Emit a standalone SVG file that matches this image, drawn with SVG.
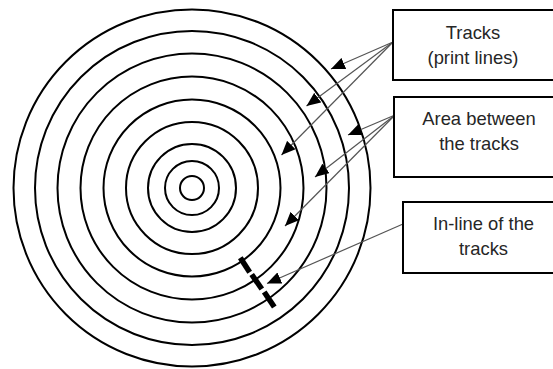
<svg xmlns="http://www.w3.org/2000/svg" width="553" height="369" viewBox="0 0 553 369">
<style>
.ring{fill:none;stroke:#000;stroke-width:2}
.box{fill:#fff;stroke:#000;stroke-width:2}
.lbl{font-family:"Liberation Sans",Arial,sans-serif;font-size:18.4px;fill:#262626;text-anchor:middle}
.conn{stroke:#555;stroke-width:1.2;fill:none;marker-end:url(#ah)}
.dash{stroke:#000;stroke-width:5.5;stroke-linecap:butt}
</style>
<defs>
<marker id="ah" markerUnits="userSpaceOnUse" markerWidth="15" markerHeight="12" refX="14" refY="6" orient="auto">
<path d="M0,0 L14,6 L0,12 z" fill="#000"/>
</marker>
</defs>
<rect width="553" height="369" fill="#fff"/>
<g id="disc">
<circle class="ring" cx="192" cy="188" r="178.5"/>
<circle class="ring" cx="192" cy="188" r="157"/>
<circle class="ring" cx="192" cy="188" r="134.5"/>
<circle class="ring" cx="192" cy="188" r="111.5"/>
<circle class="ring" cx="192" cy="188" r="88.5"/>
<circle class="ring" cx="192" cy="188" r="66"/>
<circle class="ring" cx="192" cy="188" r="44"/>
<circle class="ring" cx="192" cy="188" r="27"/>
<circle class="ring" cx="192" cy="188" r="12"/>
</g>
<g id="inline-marks">
<line class="dash" x1="240.3" y1="257.7" x2="249.7" y2="272.3"/>
<line class="dash" x1="251.7" y1="274.5" x2="261.8" y2="289"/>
<line class="dash" x1="264.2" y1="292" x2="274.3" y2="307"/>
</g>
<g id="connectors">
<line class="conn" x1="393" y1="42" x2="331" y2="69"/>
<line class="conn" x1="393" y1="42" x2="306.5" y2="106"/>
<line class="conn" x1="393" y1="42" x2="281.5" y2="155"/>
<line class="conn" x1="395" y1="115" x2="348" y2="135"/>
<line class="conn" x1="395" y1="115" x2="315" y2="177"/>
<line class="conn" x1="395" y1="115" x2="285" y2="226"/>
<line class="conn" x1="403" y1="224" x2="267" y2="283.5"/>
</g>
<g id="box-tracks">
<rect class="box" x="393" y="10" width="175" height="70"/>
<text class="lbl" x="473" y="39">Tracks</text>
<text class="lbl" x="473" y="64">(print lines)</text>
</g>
<g id="box-area">
<rect class="box" x="394" y="97" width="175" height="80"/>
<text class="lbl" x="479" y="125">Area between</text>
<text class="lbl" x="479" y="150">the tracks</text>
</g>
<g id="box-inline">
<rect class="box" x="403" y="202" width="175" height="71"/>
<text class="lbl" x="483.5" y="230">In-line of the</text>
<text class="lbl" x="483.5" y="255">tracks</text>
</g>
</svg>
